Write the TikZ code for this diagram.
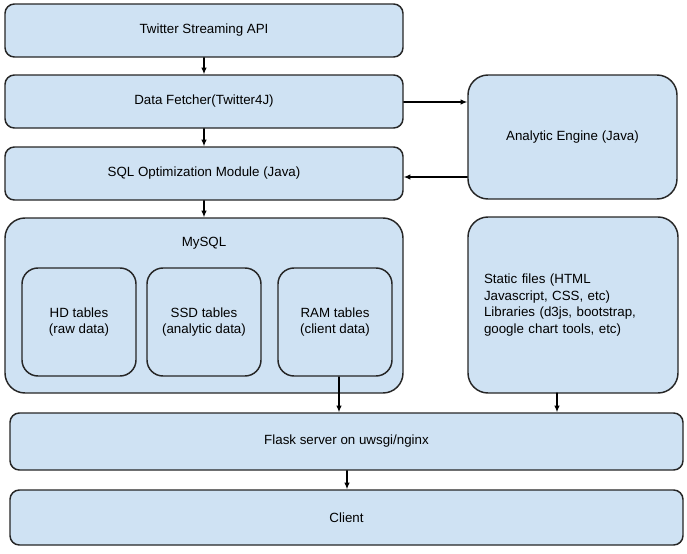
\documentclass[tikz,border=0pt]{standalone}
\usepackage{fontspec}
\setmainfont{Liberation Sans}
\usetikzlibrary{positioning,calc,arrows.meta}
\definecolor{boxBlue}{HTML}{CFE2F3}
\definecolor{boxEdge}{HTML}{262626}

\begin{document}
\begin{tikzpicture}[x=0.75pt,y=-0.75pt, line cap=round,line join=round,
		>={Latex[length=5pt,width=4.2pt]},
		flatBox/.style={draw=boxEdge, fill=boxBlue, line width=1.1pt, rounded corners=7pt,
			inner sep=0pt, font=\fontsize{10}{12.5}\selectfont},
		bigBox/.style={flatBox, rounded corners=15pt},
		tableBox/.style={flatBox, rounded corners=12pt, align=center},
		flowArrow/.style={->, draw=black, line width=0.9pt}]
	
	% ---- parameters (pixel grid of the sheet)
	\def\px{0.75pt}
	\def\wideW{398}
	\def\rowH{53}
	
	\useasboundingbox (0,0) rectangle (687,554);
	
	% ---- left column
	\node[flatBox, minimum width={\wideW*\px}, minimum height={\rowH*\px}]
		(api) at (204,30.5) {Twitter Streaming API};
	\node[flatBox, minimum width={\wideW*\px}, minimum height={\rowH*\px}]
		(fetch) at (204,101.5) {Data Fetcher(Twitter4J)};
	\node[flatBox, minimum width={\wideW*\px}, minimum height={\rowH*\px}]
		(sqlopt) at (204,173.5) {SQL Optimization Module (Java)};
	
	% ---- MySQL block with three table kinds
	\node[bigBox, minimum width={\wideW*\px}, minimum height={175*\px}]
		(mysql) at (204,305.5) {};
	\node[font=\fontsize{10}{12.5}\selectfont] (mysqlTitle) at (204,243) {MySQL};
	\node[tableBox, minimum width={114*\px}, minimum height={108*\px}]
		(hd) at (79,322) {HD tables\\(raw data)};
	\node[tableBox, minimum width={114*\px}, minimum height={108*\px}]
		(ssd) at (204,322) {SSD tables\\(analytic data)};
	\node[tableBox, minimum width={114*\px}, minimum height={108*\px}]
		(ram) at (335,322) {RAM tables\\(client data)};
	
	% ---- right column
	\node[bigBox, minimum width={209*\px}, minimum height={124*\px}]
		(engine) at (572.5,137) {Analytic Engine (Java)};
	\node[bigBox, minimum width={210*\px}, minimum height={176*\px},
		text width={178*\px}, inner xsep={16*\px}, align=left]
		(static) at (573,305) {Static files (HTML\\Javascript, CSS, etc)\\Libraries (d3js, bootstrap,\\google chart tools, etc)};
	
	% ---- bottom rows
	\node[flatBox, minimum width={673*\px}, minimum height={57*\px}]
		(flask) at (346.5,441.5) {Flask server on uwsgi/nginx};
	\node[flatBox, minimum width={673*\px}, minimum height={55*\px}]
		(client) at (346.5,517.5) {Client};
	
	% ---- exits toward the server
	\coordinate (ramOut) at (339,377);
	\coordinate (staticOut) at (557,393);
	
	% ---- connectors
	\draw[flowArrow] (api) -- (fetch);
	\draw[flowArrow] (fetch) -- (sqlopt);
	\draw[flowArrow] (sqlopt) -- (mysql);
	\draw[flowArrow] ($(fetch.east)+(0,0.5)$) -- ($(fetch.east -| engine.west)+(0,0.5)$);
	\draw[flowArrow] (sqlopt.east -| engine.west) ++(0,3.5) -- ($(sqlopt.east)+(0,3.5)$);
	\draw[flowArrow] (ramOut) -- (ramOut |- flask.north);
	\draw[flowArrow] (staticOut) -- (staticOut |- flask.north);
	\draw[flowArrow] ($(flask.south)+(0.5,0)$) -- ($(client.north)+(0.5,0)$);
	
\end{tikzpicture}
\end{document}
